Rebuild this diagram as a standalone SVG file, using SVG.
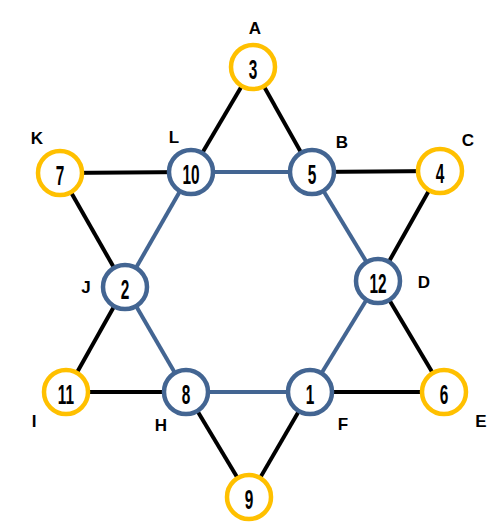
<svg xmlns="http://www.w3.org/2000/svg" width="501" height="522" viewBox="0 0 501 522">
<style>
.bk{stroke:#000;stroke-width:4;fill:none}
.bl{stroke:#436592;stroke-width:4;fill:none}
.y{fill:#fff;stroke:#FFC000;stroke-width:4.5}
.b{fill:#fff;stroke:#436592;stroke-width:4.5}
.n{font-family:"Liberation Sans",Arial,sans-serif;font-weight:bold;font-size:28px;text-anchor:middle;fill:#000}
.l{font-family:"Liberation Sans",Arial,sans-serif;font-weight:bold;font-size:17px;text-anchor:middle;fill:#000}
</style>
<rect width="501" height="522" fill="#fff"/>
<g id="connectors">
<line class="bk" x1="253" y1="67" x2="191" y2="172"/>
<line class="bk" x1="253" y1="67" x2="312" y2="172"/>
<line class="bk" x1="60" y1="173" x2="191" y2="172"/>
<line class="bk" x1="312" y1="172" x2="440" y2="171"/>
<line class="bk" x1="60" y1="173" x2="125" y2="287"/>
<line class="bk" x1="440" y1="171" x2="378" y2="281"/>
<line class="bk" x1="125" y1="287" x2="66" y2="392"/>
<line class="bk" x1="378" y1="281" x2="444" y2="392"/>
<line class="bk" x1="66" y1="392" x2="186" y2="392"/>
<line class="bk" x1="310" y1="392" x2="444" y2="392"/>
<line class="bk" x1="186" y1="392" x2="249" y2="497"/>
<line class="bk" x1="310" y1="392" x2="249" y2="497"/>
<line class="bl" x1="191" y1="172" x2="312" y2="172"/>
<line class="bl" x1="191" y1="172" x2="125" y2="287"/>
<line class="bl" x1="125" y1="287" x2="186" y2="392"/>
<line class="bl" x1="186" y1="392" x2="310" y2="392"/>
<line class="bl" x1="310" y1="392" x2="378" y2="281"/>
<line class="bl" x1="378" y1="281" x2="312" y2="172"/>
</g>
<g id="A"><circle class="y" cx="253" cy="67" r="22"/><text class="n" transform="translate(253,79) scale(0.55,1)">3</text><text class="l" x="255" y="34">A</text></g>
<g id="B"><circle class="b" cx="312" cy="172" r="22"/><text class="n" transform="translate(312,184) scale(0.55,1)">5</text><text class="l" x="342" y="148">B</text></g>
<g id="C"><circle class="y" cx="440" cy="171" r="22"/><text class="n" transform="translate(440,183) scale(0.55,1)">4</text><text class="l" x="468" y="146">C</text></g>
<g id="D"><circle class="b" cx="378" cy="281" r="22"/><text class="n" transform="translate(378,293) scale(0.55,1)">12</text><text class="l" x="424" y="288">D</text></g>
<g id="E"><circle class="y" cx="444" cy="392" r="22"/><text class="n" transform="translate(444,404) scale(0.55,1)">6</text><text class="l" x="481" y="427">E</text></g>
<g id="F"><circle class="b" cx="310" cy="392" r="22"/><text class="n" transform="translate(310,404) scale(0.55,1)">1</text><text class="l" x="343" y="430">F</text></g>
<g id="G"><circle class="y" cx="249" cy="497" r="22"/><text class="n" transform="translate(249,509) scale(0.55,1)">9</text></g>
<g id="H"><circle class="b" cx="186" cy="392" r="22"/><text class="n" transform="translate(186,404) scale(0.55,1)">8</text><text class="l" x="161" y="431">H</text></g>
<g id="I"><circle class="y" cx="66" cy="392" r="22"/><text class="n" transform="translate(66,404) scale(0.55,1)">11</text><text class="l" x="34" y="427">I</text></g>
<g id="J"><circle class="b" cx="125" cy="287" r="22"/><text class="n" transform="translate(125,299) scale(0.55,1)">2</text><text class="l" x="86" y="293">J</text></g>
<g id="K"><circle class="y" cx="60" cy="173" r="22"/><text class="n" transform="translate(60,185) scale(0.55,1)">7</text><text class="l" x="37" y="144">K</text></g>
<g id="L"><circle class="b" cx="191" cy="172" r="22"/><text class="n" transform="translate(191,184) scale(0.55,1)">10</text><text class="l" x="174" y="143">L</text></g>
</svg>
